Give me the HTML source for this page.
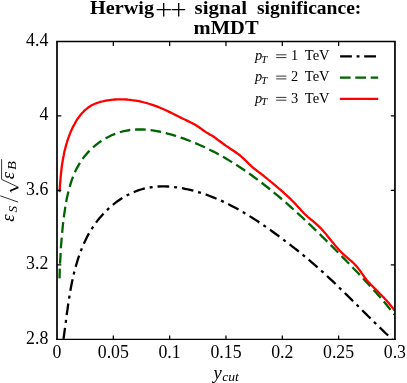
<!DOCTYPE html>
<html><head><meta charset="utf-8">
<style>
html,body{margin:0;padding:0;background:#fff;}
body{width:407px;height:383px;overflow:hidden;}
svg{display:block;will-change:transform;font-family:"Liberation Serif",serif;}
</style></head>
<body>
<svg width="407" height="383" viewBox="0 0 407 383">
<rect width="407" height="383" fill="#fff"/>
<g font-weight="bold" font-size="17.8" fill="#000">
<text x="90" y="14.3" textLength="64" lengthAdjust="spacingAndGlyphs">Herwig</text>
<path d="M156.6 9.7 H170.9 M163.7 2.9 V16.5 M171.6 9.7 H185.2 M178.7 2.9 V16.5" stroke="#000" stroke-width="1.3" fill="none"/>
<text x="194.6" y="14.3" textLength="52.4" lengthAdjust="spacingAndGlyphs">signal</text>
<text x="257" y="14.3" textLength="104.4" lengthAdjust="spacingAndGlyphs">significance:</text>
<text x="193.6" y="34.4" textLength="65" lengthAdjust="spacingAndGlyphs">mMDT</text>
</g>
<g font-size="17.8" fill="#000"><text x="57.0" y="357.8" text-anchor="middle">0</text><text x="113.3" y="357.8" text-anchor="middle">0.05</text><text x="169.6" y="357.8" text-anchor="middle">0.1</text><text x="226.0" y="357.8" text-anchor="middle">0.15</text><text x="282.3" y="357.8" text-anchor="middle">0.2</text><text x="338.6" y="357.8" text-anchor="middle">0.25</text><text x="394.9" y="357.8" text-anchor="middle">0.3</text><text x="48.3" y="45.9" text-anchor="end">4.4</text><text x="48.3" y="120.4" text-anchor="end">4</text><text x="48.3" y="194.8" text-anchor="end">3.6</text><text x="48.3" y="269.2" text-anchor="end">3.2</text><text x="48.3" y="343.7" text-anchor="end">2.8</text></g>
<clipPath id="c"><rect x="57.0" y="41.5" width="337.95" height="297.8"/></clipPath>
<g clip-path="url(#c)" fill="none" stroke-width="2.3">
<path d="M63.5 338.9 L63.9 336.0 L64.3 333.1 L64.7 330.2 L65.1 327.3 L65.5 324.3 L65.9 321.4 L66.2 318.4 L66.6 315.4 L67.0 312.4 L67.5 309.4 L67.9 306.4 L68.3 303.3 L68.8 300.3 L69.3 297.3 L69.8 294.2 L70.3 291.2 L70.8 288.2 L71.4 285.1 L72.0 282.1 L72.7 279.1 L73.3 276.1 L74.0 273.1 L74.8 270.1 L75.6 267.2 L76.4 264.2 L77.3 261.3 L78.2 258.4 L79.2 255.5 L80.2 252.6 L81.3 249.8 L82.4 247.0 L83.6 244.2 L84.9 241.5 L86.2 238.8 L87.5 236.1 L89.0 233.4 L90.5 230.8 L92.1 228.3 L93.8 225.8 L95.5 223.3 L97.3 220.9 L99.2 218.5 L101.2 216.2 L103.2 213.9 L105.3 211.7 L107.5 209.6 L109.7 207.5 L112.0 205.5 L114.4 203.6 L116.8 201.7 L119.3 200.0 L121.9 198.3 L124.5 196.7 L127.1 195.3 L129.8 193.9 L132.5 192.6 L135.3 191.5 L138.1 190.4 L140.9 189.5 L143.8 188.7 L146.7 188.0 L149.7 187.5 L152.7 187.1 L155.7 186.7 L158.7 186.5 L161.7 186.4 L164.7 186.4 L167.8 186.5 L170.9 186.7 L173.9 187.0 L177.0 187.4 L180.0 187.9 L183.1 188.4 L186.1 189.0 L189.1 189.7 L192.2 190.4 L195.2 191.2 L198.1 192.1 L201.1 193.0 L204.0 193.9 L206.9 194.9 L209.7 196.0 L212.6 197.1 L215.4 198.2 L218.1 199.4 L220.9 200.6 L223.7 201.9 L226.4 203.2 L229.1 204.5 L231.7 205.9 L234.4 207.3 L237.1 208.7 L239.7 210.2 L242.3 211.7 L244.9 213.2 L247.5 214.8 L250.0 216.4 L252.6 218.0 L255.1 219.6 L257.7 221.3 L260.2 223.0 L262.7 224.7 L265.2 226.4 L267.7 228.2 L270.2 229.9 L272.7 231.7 L275.1 233.5 L277.6 235.3 L280.0 237.1 L282.5 238.9 L284.9 240.8 L287.3 242.6 L289.7 244.4 L292.1 246.3 L294.5 248.2 L296.9 250.0 L299.3 251.9 L301.6 253.8 L304.0 255.8 L306.3 257.7 L308.6 259.6 L310.9 261.6 L313.2 263.6 L315.5 265.6 L317.8 267.6 L320.0 269.6 L322.3 271.6 L324.5 273.7 L326.7 275.7 L329.0 277.8 L331.2 279.9 L333.4 281.9 L335.6 284.0 L337.8 286.1 L339.9 288.3 L342.1 290.4 L344.3 292.5 L346.5 294.6 L348.6 296.7 L350.8 298.9 L352.9 301.0 L355.1 303.2 L357.3 305.3 L359.4 307.4 L361.6 309.6 L363.7 311.7 L365.9 313.9 L368.0 316.0 L370.2 318.1 L372.4 320.3 L374.5 322.4 L376.7 324.5 L378.9 326.6 L381.1 328.8 L383.2 330.9 L385.4 333.0 L387.6 335.0 L389.8 337.1 L392.1 339.2" stroke="#000" stroke-dasharray="11.7 4.915 3 4.915" stroke-dashoffset="0.5"/>
<path d="M59.5 278.4 L59.6 275.1 L59.7 271.9 L59.8 268.6 L60.0 265.4 L60.1 262.2 L60.3 259.0 L60.5 255.8 L60.6 252.6 L60.8 249.4 L61.0 246.2 L61.3 243.1 L61.5 239.9 L61.8 236.7 L62.0 233.5 L62.4 230.3 L62.7 227.1 L63.0 224.0 L63.4 220.7 L63.8 217.5 L64.2 214.3 L64.7 211.1 L65.2 207.8 L65.7 204.6 L66.3 201.3 L66.9 198.1 L67.6 194.9 L68.4 191.7 L69.2 188.5 L70.1 185.4 L71.1 182.2 L72.1 179.2 L73.3 176.2 L74.5 173.2 L75.8 170.3 L77.3 167.4 L78.9 164.7 L80.5 161.9 L82.3 159.3 L84.2 156.8 L86.3 154.3 L88.4 151.9 L90.6 149.6 L93.0 147.5 L95.4 145.4 L97.9 143.4 L100.5 141.5 L103.2 139.8 L105.9 138.2 L108.8 136.7 L111.6 135.3 L114.6 134.1 L117.6 133.0 L120.6 132.0 L123.7 131.2 L126.8 130.6 L129.9 130.0 L133.1 129.7 L136.3 129.5 L139.5 129.4 L142.8 129.5 L146.0 129.7 L149.2 130.0 L152.5 130.4 L155.7 130.9 L158.9 131.5 L162.1 132.2 L165.3 132.9 L168.5 133.8 L171.6 134.6 L174.8 135.6 L177.9 136.6 L180.9 137.6 L184.0 138.7 L187.0 139.8 L190.0 141.0 L193.0 142.2 L196.0 143.4 L199.0 144.7 L201.9 146.0 L204.8 147.3 L207.7 148.7 L210.6 150.2 L213.5 151.6 L216.3 153.1 L219.1 154.6 L221.9 156.2 L224.7 157.8 L227.5 159.4 L230.2 161.1 L233.0 162.8 L235.7 164.5 L238.4 166.2 L241.1 168.0 L243.7 169.8 L246.4 171.6 L249.0 173.4 L251.6 175.3 L254.2 177.2 L256.8 179.1 L259.4 181.1 L262.0 183.0 L264.5 185.0 L267.1 187.0 L269.6 189.0 L272.1 191.0 L274.6 193.1 L277.1 195.1 L279.5 197.2 L282.0 199.3 L284.5 201.4 L286.9 203.5 L289.3 205.7 L291.7 207.8 L294.1 210.0 L296.5 212.2 L298.9 214.3 L301.3 216.5 L303.6 218.7 L306.0 220.9 L308.3 223.1 L310.7 225.3 L313.0 227.6 L315.3 229.8 L317.6 232.0 L319.9 234.3 L322.2 236.6 L324.5 238.8 L326.8 241.1 L329.1 243.4 L331.3 245.6 L333.6 247.9 L335.9 250.2 L338.1 252.5 L340.4 254.8 L342.6 257.1 L344.9 259.4 L347.1 261.7 L349.4 264.0 L351.6 266.4 L353.8 268.7 L356.1 271.0 L358.3 273.3 L360.5 275.7 L362.7 278.0 L364.9 280.4 L367.1 282.7 L369.3 285.1 L371.5 287.5 L373.6 289.9 L375.8 292.3 L377.9 294.7 L380.0 297.1 L382.1 299.6 L384.2 302.0 L386.3 304.5 L388.3 307.0 L390.4 309.5 L392.4 312.0 L394.4 314.6" stroke="#006400" stroke-dasharray="10.7 4.82" stroke-dashoffset="0.86"/>
<path d="M59.5 192.2 L59.7 190.3 L59.8 188.5 L59.9 186.7 L60.0 184.8 L60.2 183.0 L60.3 181.1 L60.5 179.3 L60.6 177.4 L60.8 175.6 L61.0 173.7 L61.2 171.9 L61.4 170.0 L61.6 168.2 L61.8 166.3 L62.1 164.5 L62.4 162.7 L62.7 160.8 L63.0 159.0 L63.3 157.2 L63.7 155.4 L64.0 153.6 L64.4 151.8 L64.8 150.0 L65.3 148.2 L65.8 146.4 L66.2 144.6 L66.8 142.8 L67.3 141.1 L67.9 139.3 L68.5 137.6 L69.1 135.8 L69.8 134.1 L70.5 132.4 L71.2 130.7 L72.0 129.0 L72.8 127.3 L73.7 125.6 L74.6 124.0 L75.5 122.3 L76.4 120.7 L77.4 119.2 L78.5 117.6 L79.6 116.1 L80.7 114.7 L81.9 113.3 L83.2 112.0 L84.4 110.7 L85.8 109.5 L87.2 108.3 L88.6 107.2 L90.2 106.2 L91.7 105.3 L93.4 104.5 L95.0 103.8 L96.8 103.1 L98.5 102.5 L100.3 101.9 L102.1 101.5 L104.0 101.1 L105.8 100.7 L107.7 100.4 L109.6 100.1 L111.4 99.9 L113.3 99.7 L115.1 99.5 L117.0 99.4 L118.9 99.4 L120.7 99.4 L122.6 99.4 L124.4 99.4 L126.3 99.5 L128.1 99.7 L129.9 99.8 L131.8 100.1 L133.6 100.3 L135.4 100.6 L137.2 100.9 L139.0 101.2 L140.8 101.6 L142.6 102.0 L144.4 102.5 L146.2 102.9 L148.0 103.5 L149.8 104.0 L151.5 104.6 L153.3 105.2 L155.0 105.8 L156.8 106.4 L158.5 107.1 L160.2 107.8 L161.9 108.5 L163.6 109.3 L165.3 110.0 L167.0 110.8 L168.6 111.6 L170.3 112.4 L172.0 113.2 L173.7 114.1 L175.3 114.9 L177.0 115.7 L178.6 116.5 L180.3 117.4 L182.0 118.2 L183.6 119.0 L185.3 119.8 L187.0 120.6 L188.6 121.4 L190.3 122.2 L191.9 123.0 L193.6 123.9 L195.2 124.8 L196.7 125.7 L198.3 126.8 L199.8 127.8 L201.3 128.9 L202.8 130.0 L204.3 131.1 L205.9 132.1 L207.4 133.1 L209.0 134.0 L210.6 134.9 L212.2 135.8 L213.8 136.8 L215.3 137.9 L216.8 139.0 L218.2 140.1 L219.7 141.2 L221.2 142.3 L222.7 143.4 L224.2 144.5 L225.7 145.6 L227.2 146.6 L228.8 147.6 L230.3 148.7 L231.9 149.7 L233.4 150.7 L234.9 151.7 L236.4 152.8 L237.9 153.9 L239.4 155.0 L240.8 156.2 L242.2 157.4 L243.6 158.7 L244.9 159.9 L246.2 161.2 L247.6 162.5 L248.9 163.8 L250.3 165.1 L251.6 166.4 L253.0 167.6 L254.4 168.8 L255.9 169.9 L257.3 171.0 L258.8 172.1 L260.3 173.2 L261.8 174.4 L263.2 175.5 L264.6 176.7 L266.1 177.8 L267.5 179.0 L268.9 180.2 L270.4 181.3 L271.8 182.5 L273.2 183.7 L274.6 184.9 L276.1 186.1 L277.5 187.3 L278.9 188.5 L280.3 189.7 L281.7 190.9 L283.1 192.1 L284.4 193.4 L285.8 194.6 L287.2 195.9 L288.5 197.1 L289.9 198.4 L291.2 199.7 L292.5 201.0 L293.8 202.3 L295.1 203.6 L296.4 205.0 L297.6 206.4 L298.9 207.7 L300.1 209.1 L301.3 210.5 L302.6 211.8 L303.9 213.2 L305.2 214.5 L306.5 215.7 L307.9 217.0 L309.3 218.2 L310.7 219.4 L312.2 220.5 L313.6 221.7 L315.0 222.9 L316.4 224.1 L317.8 225.4 L319.1 226.6 L320.4 227.9 L321.7 229.3 L322.9 230.6 L324.1 232.0 L325.4 233.4 L326.6 234.9 L327.7 236.3 L328.9 237.7 L330.1 239.2 L331.2 240.6 L332.4 242.1 L333.6 243.5 L334.8 244.9 L336.0 246.4 L337.2 247.8 L338.4 249.1 L339.6 250.5 L340.9 251.8 L342.2 253.2 L343.6 254.4 L344.9 255.7 L346.4 256.9 L347.8 258.1 L349.2 259.3 L350.6 260.5 L352.0 261.7 L353.4 263.0 L354.7 264.3 L355.9 265.6 L357.1 267.0 L358.3 268.4 L359.4 269.9 L360.5 271.4 L361.5 272.9 L362.6 274.4 L363.7 276.0 L364.7 277.5 L365.9 278.9 L367.0 280.4 L368.2 281.8 L369.5 283.1 L370.7 284.5 L372.0 285.8 L373.3 287.1 L374.6 288.4 L376.0 289.7 L377.3 291.0 L378.6 292.4 L379.9 293.7 L381.2 295.0 L382.5 296.3 L383.8 297.6 L385.0 299.0 L386.3 300.3 L387.5 301.7 L388.7 303.1 L389.9 304.5 L391.1 305.9 L392.3 307.4 L393.4 308.9 L394.5 310.4" stroke="#ff0000"/>
</g>
<g fill="none" stroke="#000">
<path d="M57.0 339.90000000000003 V41.5 M394.95 339.90000000000003 V41.5" stroke-width="1.7"/><path d="M56.15 41.5 H395.8" stroke-width="1.7"/><path d="M56.15 339.3 H395.8" stroke-width="1.3"/>
<g stroke-width="1.25"><path d="M113.32 339.3 V335.4 M113.32 41.5 V45.9"/><path d="M169.65 339.3 V335.4 M169.65 41.5 V45.9"/><path d="M225.97 339.3 V335.4 M225.97 41.5 V45.9"/><path d="M282.30 339.3 V335.4 M282.30 41.5 V45.9"/><path d="M338.62 339.3 V335.4 M338.62 41.5 V45.9"/><path d="M57.0 115.95 H61.3 M394.95 115.95 H390.8"/><path d="M57.0 190.40 H61.3 M394.95 190.40 H390.8"/><path d="M57.0 264.85 H61.3 M394.95 264.85 H390.8"/></g>
</g>
<!-- legend -->
<g font-size="14.4" fill="#000">
<g>
<text x="255" y="59.9" font-style="italic">p</text>
<text x="261.3" y="62.6" font-style="italic" font-size="10.8">T</text>
<path d="M276.2 54.8 H286.4 M276.2 57.6 H286.4" stroke="#000" stroke-width="0.8" fill="none"/>
<text x="291.1" y="59.9">1</text>
<text x="304.8" y="59.9" textLength="24.8" lengthAdjust="spacingAndGlyphs">TeV</text>
</g>
<g>
<text x="255" y="81.2" font-style="italic">p</text>
<text x="261.3" y="83.9" font-style="italic" font-size="10.8">T</text>
<path d="M276.2 76.1 H286.4 M276.2 78.9 H286.4" stroke="#000" stroke-width="0.8" fill="none"/>
<text x="291.1" y="81.2">2</text>
<text x="304.8" y="81.2" textLength="24.8" lengthAdjust="spacingAndGlyphs">TeV</text>
</g>
<g>
<text x="255" y="102.5" font-style="italic">p</text>
<text x="261.3" y="105.2" font-style="italic" font-size="10.8">T</text>
<path d="M276.2 97.4 H286.4 M276.2 100.2 H286.4" stroke="#000" stroke-width="0.8" fill="none"/>
<text x="291.1" y="102.5">3</text>
<text x="304.8" y="102.5" textLength="24.8" lengthAdjust="spacingAndGlyphs">TeV</text>
</g>
</g>
<g fill="none" stroke-width="2.3">
<path d="M340.1 56.4 H378" stroke="#000" stroke-dasharray="11.8 4.7 2.9 4.7"/>
<path d="M339.9 77.6 H378.2" stroke="#006400" stroke-dasharray="10.7 4.7"/>
<path d="M339.9 98.8 H378.2" stroke="#ff0000"/>
</g>
<!-- x label -->
<text x="213.4" y="378.9" font-size="18.6" font-style="italic" fill="#000">y</text>
<text x="222.2" y="381.2" font-size="13" font-style="italic" fill="#000" textLength="16.6" lengthAdjust="spacingAndGlyphs">cut</text>
<!-- y label -->
<g transform="translate(14.1,221.8) rotate(-90)" fill="#000" font-style="italic">
<text x="0" y="0" font-size="18.5">ε</text>
<text x="9.4" y="2.7" font-size="13">S</text>
<path d="M19.7 4 L26 -13.8" stroke="#000" stroke-width="0.8" fill="none"/>
<path d="M29.4 -2.6 L31.2 -4 L34.6 4.2 L42.4 -12.5 H62.6" stroke="#000" stroke-width="0.8" fill="none"/>
<path d="M31 -3.8 L34.4 4.2" stroke="#000" stroke-width="1.6" fill="none"/>
<text x="42.6" y="0" font-size="18.5">ε</text>
<text x="51.8" y="1.9" font-size="13" textLength="8.8" lengthAdjust="spacingAndGlyphs">B</text>
</g>
</svg>
</body></html>
